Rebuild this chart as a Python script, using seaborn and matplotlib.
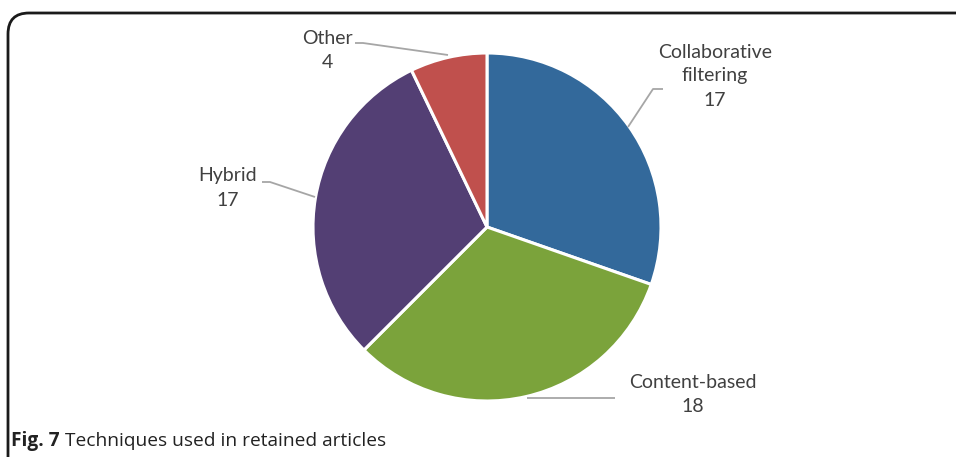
import matplotlib
matplotlib.use("Agg")
import matplotlib.pyplot as plt
from matplotlib.patches import FancyBboxPatch
import seaborn as sns

# ---- data ----
categories = ["Collaborative\nfiltering", "Content-based", "Hybrid", "Other"]
counts = [17, 18, 17, 4]
colors = ["#33699B", "#7BA33B", "#533F74", "#C0504D"]

sns.set_theme(style="white")
plt.rcParams["font.family"] = ["Lato", "DejaVu Sans"]

W, H = 956, 457
fig = plt.figure(figsize=(W / 100, H / 100), dpi=100)
ax = fig.add_axes([0, 0, 1, 1])

def Y(py):
    return H - py

palette = sns.color_palette(colors)
ax.pie(counts, colors=palette, startangle=90, counterclock=False,
       center=(487, Y(227)), radius=174, frame=True,
       wedgeprops=dict(edgecolor="white", linewidth=2.2))
ax.set_xlim(0, W)
ax.set_ylim(0, H)
ax.set_aspect("equal")
ax.axis("off")

tc = "#404040"
lc = "#A6A6A6"
fs = 14

# label positions (pixel layout) and leader lines
label_pos = [(715, 76), (693, 394), (228, 188), (327, 50)]
leaders = [
    [(663, 89), (653, 89), (628, 127)],
    [(615, 398), (527, 398)],
    [(262, 182), (270, 182), (315, 197)],
    [(355, 43), (363, 43), (448, 55)],
]
for cat, val, (lx, ly), pts in zip(categories, counts, label_pos, leaders):
    ax.text(lx, Y(ly), f"{cat}\n{val}", ha="center", va="center",
            fontsize=fs, color=tc, linespacing=1.5)
    ax.plot([p[0] for p in pts], [Y(p[1]) for p in pts], color=lc, lw=1.3,
            solid_capstyle="butt")

# border box (clipped on right/bottom)
box = FancyBboxPatch((8 / W, -30 / H), 1.2, (H - 13 + 30) / H,
                     boxstyle="round,pad=0,rounding_size=0.022",
                     transform=fig.transFigure, fill=False,
                     edgecolor="#1a1a1a", linewidth=2.0,
                     mutation_aspect=W / H)
fig.patches.append(box)

cap_fs = 13.8
t1 = fig.text(11 / W, 1 - 441 / H, "Fig. 7", fontsize=cap_fs, fontweight="bold",
              family=["Open Sans", "DejaVu Sans"], color="#222222", va="center")
fig.canvas.draw()
bb = t1.get_window_extent()
fig.text((bb.x1 + 5) / W, 1 - 441 / H, "Techniques used in retained articles",
         fontsize=cap_fs, family=["Open Sans", "DejaVu Sans"], color="#222222",
         va="center")

fig.savefig("out.png", dpi=100)
